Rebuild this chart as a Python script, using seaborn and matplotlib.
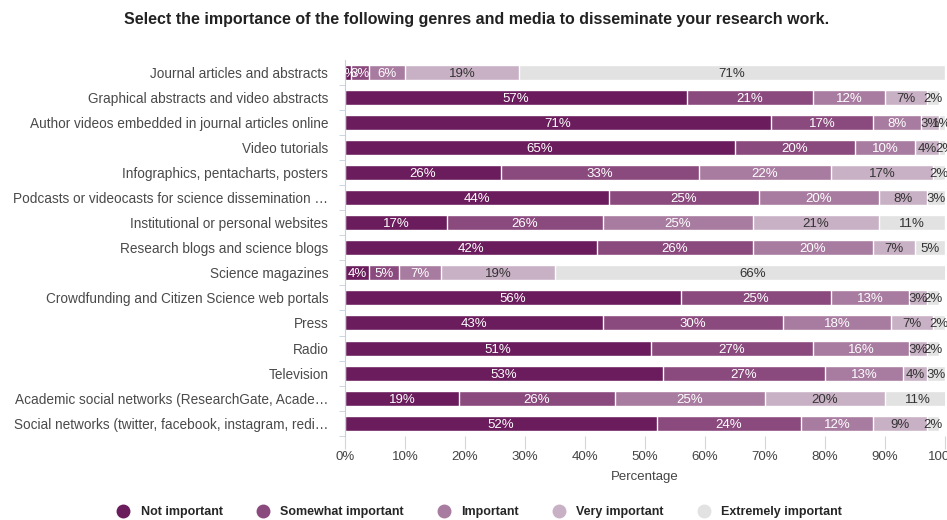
import pandas as pd
import matplotlib.pyplot as plt
from matplotlib.lines import Line2D
import seaborn as sns

# Survey answers, one list per importance level (percent of respondents)
media = [
    "Journal articles and abstracts",
    "Graphical abstracts and video abstracts",
    "Author videos embedded in journal articles online",
    "Video tutorials",
    "Infographics, pentacharts, posters",
    "Podcasts or videocasts for science dissemination \u2026",
    "Institutional or personal websites",
    "Research blogs and science blogs",
    "Science magazines",
    "Crowdfunding and Citizen Science web portals",
    "Press",
    "Radio",
    "Television",
    "Academic social networks (ResearchGate, Acade\u2026",
    "Social networks (twitter, facebook, instagram, redi\u2026",
]
not_important = [1, 57, 71, 65, 26, 44, 17, 42, 4, 56, 43, 51, 53, 19, 52]
somewhat_important = [3, 21, 17, 20, 33, 25, 26, 26, 5, 25, 30, 27, 27, 26, 24]
important = [6, 12, 8, 10, 22, 20, 25, 20, 7, 13, 18, 16, 13, 25, 12]
very_important = [19, 7, 3, 4, 17, 8, 21, 7, 19, 3, 7, 3, 4, 20, 9]
extremely_important = [71, 2, 1, 2, 2, 3, 11, 5, 66, 2, 2, 2, 3, 11, 2]

levels = ["Not important", "Somewhat important", "Important",
          "Very important", "Extremely important"]
colors = ["#6a1c5c", "#8b4a7e", "#a87ca0", "#c9b1c5", "#e2e2e2"]
text_colors = ["white", "white", "white", "#333333", "#333333"]

df = pd.DataFrame({
    "media": media,
    "Not important": not_important,
    "Somewhat important": somewhat_important,
    "Important": important,
    "Very important": very_important,
    "Extremely important": extremely_important,
})
cum = df[levels].cumsum(axis=1)

sns.set_style("white")
plt.rcParams['font.family'] = ['Liberation Sans', 'DejaVu Sans']

fig, ax = plt.subplots(figsize=(9.47, 5.2), dpi=100)
fig.subplots_adjust(left=0.3643, right=0.998, top=0.885, bottom=0.162)

# stacked bars: draw the running totals from the largest down
for lvl, col in reversed(list(zip(levels, colors))):
    sns.barplot(x=cum[lvl], y=df["media"], orient="h", color=col,
                width=0.6, saturation=1, errorbar=None, ax=ax)

for i in range(len(df)):
    for lvl, tc in zip(levels, text_colors):
        v = df.loc[i, lvl]
        c = cum.loc[i, lvl] - v / 2
        ax.text(c, i + 0.06, f"{v}%", ha="center", va="center",
                color=tc, fontsize=9.5)

ax.set_xlim(0, 100)
ax.set_xticks(range(0, 101, 10))
ax.set_xticklabels([f"{t}%" for t in range(0, 101, 10)])
ax.set_xlabel("Percentage", fontsize=9.5, color="#444444", labelpad=6)
ax.set_ylabel("")
ax.tick_params(axis="x", bottom=True, length=9, color="#d6d6d6", labelsize=9.5,
               labelcolor="#444444", pad=2)
ax.tick_params(axis="y", length=0, labelsize=9.8, labelcolor="#4a4a4a", pad=12)
ax.set_yticks([i + 0.5 for i in range(len(df))], minor=True)
ax.tick_params(axis="y", which="minor", left=True, length=4, color="#c5d0dc")
for s in ["top", "right", "bottom"]:
    ax.spines[s].set_visible(False)
ax.spines["left"].set_color("#c5d0dc")

fig.text(0.503, 0.963,
         "Select the importance of the following genres and media to disseminate your research work.",
         ha="center", va="center", fontsize=11.5, fontweight="bold", color="#222222")

handles = [Line2D([], [], marker="o", linestyle="", markersize=9,
                  markerfacecolor=c, markeredgecolor=c) for c in colors]
fig.legend(handles, levels, loc="center", bbox_to_anchor=(0.503, 0.015),
           ncol=5, frameon=False, handletextpad=0.4, columnspacing=2.2,
           prop={"weight": "bold", "size": 9})

fig.savefig("out.png", dpi=100)
